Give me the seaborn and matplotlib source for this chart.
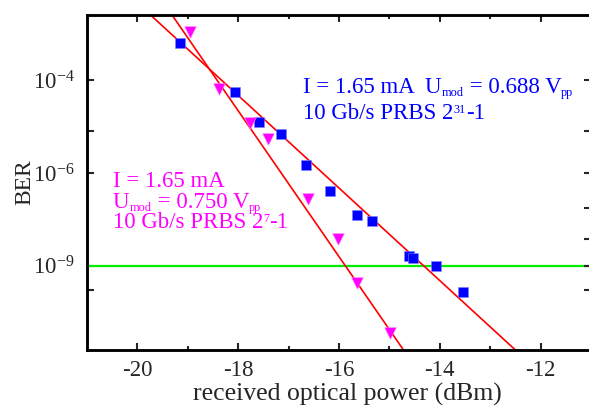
import matplotlib
matplotlib.use("Agg")
import matplotlib.pyplot as plt
import seaborn as sns
import numpy as np
import pandas as pd

# data (BER vs received optical power)
power_231 = [-19.15, -18.07, -17.59, -17.16, -16.65, -16.17, -15.65, -15.34, -14.62, -14.54, -14.07, -13.53]
ber_231 = [4.0e-4, 6.2e-5, 1.6e-5, 8.9e-6, 1.6e-6, 3.2e-7, 6.2e-8, 4.0e-8, 2.4e-9, 2.0e-9, 1.0e-9, 8.3e-11]

power_27 = [-18.95, -18.39, -17.77, -17.41, -16.62, -16.01, -15.65, -14.98]
ber_27 = [5.8e-4, 6.9e-5, 1.5e-5, 6.9e-6, 1.9e-7, 1.0e-8, 2.0e-10, 8.9e-13]

# fitted lines (end points)
fit_231_x = [-19.75, -12.5]
fit_27_x = [-19.32, -14.72]
fit_ber = [1e-3, 1e-13]

ber_limit = 1e-9

yticks_major = [1e-4, 1e-6, 1e-9]
ytick_labels = [r"$10^{-4}$", r"$10^{-6}$", r"$10^{-9}$"]
yticks_minor_left = [1e-5, 1e-10]
yticks_right = [1e-4, 1e-5, 1e-6, 1e-7, 1e-8, 1e-9, 1e-10]
xticks = [-20, -18, -16, -14, -12]
xticks_minor = [-19, -17, -15, -13]

# annotation text pieces: (text, kind) kind: n = normal, sub, sup
label_231 = [[("I = 1.65 mA  U", "n"), ("mod", "sub"), (" = 0.688 V", "n"), ("pp", "sub")],
             [("10 Gb/s PRBS 2", "n"), ("31", "sup"), ("-1", "n")]]
label_27 = [[("I = 1.65 mA", "n")],
            [("U", "n"), ("mod", "sub"), (" = 0.750 V", "n"), ("pp", "sub")],
            [("10 Gb/s PRBS 2", "n"), ("7", "sup"), ("-1", "n")]]


def fwd(y):
    with np.errstate(all="ignore"):
        y = np.clip(np.asarray(y, dtype=float), 1e-300, 0.999999)
        return -np.log10(-np.log10(y))


def inv(t):
    return 10.0 ** (-(10.0 ** (-np.asarray(t, dtype=float))))


sns.set_style("ticks")
plt.rcParams["font.family"] = ["Liberation Serif", "DejaVu Serif"]
plt.rcParams["mathtext.fontset"] = "custom"
plt.rcParams["mathtext.rm"] = "Liberation Serif"
plt.rcParams["mathtext.it"] = "Liberation Serif:italic"
plt.rcParams["axes.unicode_minus"] = False

BLUE = "#0000ff"
MAG = "#ff00ff"
RED = "#ff0000"
GREEN = "#00ee00"

fig = plt.figure(figsize=(5.89, 4.08), dpi=100)
ax = fig.add_axes([87 / 589, (408 - 350) / 408, (591 - 87) / 589, (350 - 14.5) / 408])

df1 = pd.DataFrame({"power": power_231, "ber": ber_231})
df2 = pd.DataFrame({"power": power_27, "ber": ber_27})

ax.axhline(ber_limit, color=GREEN, lw=1.6, zorder=1)
sns.lineplot(x=fit_231_x, y=fit_ber, ax=ax, color=RED, lw=1.2, sort=False, zorder=2)
sns.lineplot(x=fit_27_x, y=fit_ber, ax=ax, color=RED, lw=1.2, sort=False, zorder=2)
sns.scatterplot(data=df1, x="power", y="ber", ax=ax, marker="s", s=50, color=BLUE,
                edgecolor="#8080ff", linewidth=0.4, zorder=3)
sns.scatterplot(data=df2, x="power", y="ber", ax=ax, marker="v", s=70, color=MAG,
                edgecolor="#ff80ff", linewidth=0.4, zorder=3)

ax.set_xlim(-21, -11)
ax.set_ylim(1e-13, 1e-3)
ax.set_yscale("function", functions=(fwd, inv))
ax.set_ylim(1e-13, 1e-3)

ax.set_xticks(xticks)
ax.set_xticklabels([str(v) for v in xticks])
ax.set_xticks(xticks_minor, minor=True)
ax.set_yticks(yticks_major)
ax.set_yticklabels(ytick_labels)
ax.set_yticks(yticks_minor_left, minor=True)
ax.yaxis.set_minor_formatter(matplotlib.ticker.NullFormatter())

ax.tick_params(axis="x", which="both", direction="in", top=True, width=1.5, labelsize=16.5, pad=7)
ax.tick_params(axis="x", which="major", length=5)
ax.tick_params(axis="x", which="minor", length=3)
ax.tick_params(axis="y", which="both", direction="in", right=False, width=1.5, labelsize=16.5, pad=9)
ax.tick_params(axis="y", which="major", length=5)
ax.tick_params(axis="y", which="minor", length=5)

ax2 = ax.twinx()
ax2.set_ylim(1e-13, 1e-3)
ax2.set_yscale("function", functions=(fwd, inv))
ax2.set_ylim(1e-13, 1e-3)
ax2.set_yticks(yticks_right)
ax2.set_yticklabels([""] * len(yticks_right))
ax2.yaxis.set_minor_locator(matplotlib.ticker.NullLocator())
ax2.tick_params(axis="y", direction="in", length=5, width=1.5)

for a in (ax, ax2):
    for s in a.spines.values():
        s.set_linewidth(1.8)
        s.set_color("black")

ax.set_xlabel("received optical power (dBm)", fontsize=18.5)
ax.xaxis.set_label_coords(0.516, -0.098)
ax.set_ylabel("BER", fontsize=17)
ax.yaxis.set_label_coords(-0.102, 0.5)

renderer = fig.canvas.get_renderer()
px = 72.0 / fig.dpi  # points per pixel


def rich_line(x, y, parts, color, size=16.5, small=8.8):
    dx = 0.0
    for s, kind in parts:
        fs = size if kind == "n" else small
        dy = {"n": 0, "sub": -3, "sup": 6}[kind]
        t = ax.annotate(s, xy=(x, y), xycoords="axes fraction",
                        xytext=(dx * px, dy * px), textcoords="offset points",
                        color=color, fontsize=fs, ha="left", va="baseline")
        dx += t.get_window_extent(renderer).width


for (yy, parts) in zip([0.766, 0.690], label_231):
    rich_line(0.4286, yy, parts, BLUE)
for (yy, parts) in zip([0.487, 0.422, 0.363], label_27):
    rich_line(0.0516, yy, parts, MAG)

fig.savefig("out.png", dpi=100)
